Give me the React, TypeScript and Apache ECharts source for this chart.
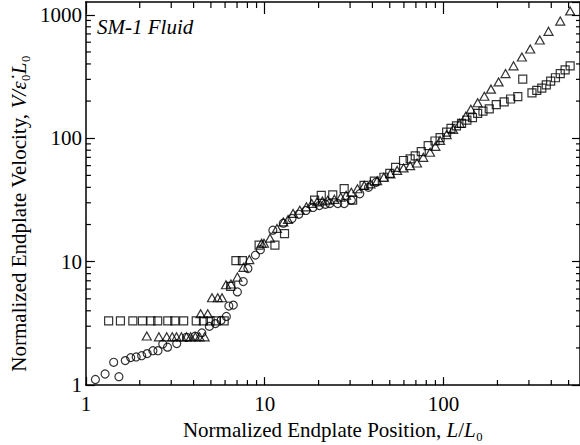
import React, { useEffect, useRef } from 'react';
import * as echarts from 'echarts';

const X_MIN = 1;
const X_MAX = 579;
const Y_MIN = 1;
const Y_MAX = 1270;

const xMinorTicks = [2, 3, 4, 5, 6, 7, 8, 9, 20, 30, 40, 50, 60, 70, 80, 90, 200, 300, 400, 500];
const yMinorTicks = [2, 3, 4, 5, 6, 7, 8, 9, 20, 30, 40, 50, 60, 70, 80, 90, 200, 300, 400, 500, 600, 700, 800, 900];

const circles: [number, number][] = [
  [1.13, 1.11], [1.28, 1.23], [1.43, 1.53], [1.53, 1.17], [1.66, 1.58], [1.78, 1.67], [1.91, 1.69],
  [2.05, 1.73], [2.2, 1.8], [2.37, 1.9], [2.53, 1.9], [2.69, 2.15], [2.86, 2.03], [3.22, 2.17],
  [3.65, 2.44], [4.08, 2.49], [4.45, 2.65], [4.9, 2.99], [5.3, 3.15], [5.7, 3.35], [6.1, 3.6],
  [6.3, 4.37], [6.67, 4.45], [7.03, 5.69], [7.58, 6.9], [8.05, 8.8], [8.87, 11.3], [9.46, 12.5],
  [11.1, 18.0], [12.7, 20.5], [14.2, 22.4], [15.5, 24.2], [17, 26], [18.6, 27.5], [20.2, 28.5],
  [21.8, 29.2], [23.1, 29.6], [25.6, 29.6], [27.8, 29.6], [30.5, 31.5], [34, 35.5], [38, 40], [42, 44],
];

const squares: [number, number][] = [
  [1.34, 3.31], [1.56, 3.31], [1.83, 3.31], [2.07, 3.31], [2.31, 3.31], [2.52, 3.31], [2.87, 3.31],
  [3.14, 3.31], [3.52, 3.31], [4.14, 3.31], [4.54, 3.31], [4.95, 3.31], [5.36, 3.31], [5.93, 3.31],
  [6.45, 6.3], [6.9, 10.2], [7.5, 10.2], [9.3, 13.6], [11.4, 13.6], [12.9, 16.9], [19, 31.5],
  [20.7, 34.5], [24, 34.8], [27.8, 39], [31, 31.5], [35.9, 41.5], [41, 45], [46.4, 48.3], [50, 52],
  [53.9, 58], [59.7, 66], [65, 68], [69.4, 72], [75, 78], [82, 87], [89.5, 95], [95.6, 101],
  [104, 112], [110, 120], [118, 126], [126, 132], [135, 140], [145, 147], [155, 159], [166, 166],
  [180, 173], [197, 187], [218, 197], [237, 208], [260, 217], [277, 301], [312, 233], [332, 244],
  [354, 255], [375, 271], [397, 290], [422, 309], [449, 334], [478, 358], [510, 386],
];

const triangles: [number, number][] = [
  [2.19, 2.5], [2.56, 2.46], [2.83, 2.46], [3.04, 2.46], [3.21, 2.46], [3.42, 2.46], [3.65, 2.46],
  [3.85, 2.46], [4.09, 2.46], [4.32, 2.46], [4.61, 2.46], [4.38, 3.79], [4.8, 3.79], [5.07, 5.1],
  [5.46, 5.1], [5.77, 5.1], [6.07, 6.5], [6.47, 6.6], [7.03, 7.5], [7.6, 9.0], [8.2, 10.4],
  [9.6, 14.1], [9.9, 14.1], [10.7, 15.5], [11.7, 18.6], [12.7, 21], [13.5, 22], [14.4, 24.6],
  [15.7, 26.1], [17.1, 27.8], [18.3, 29.6], [19.6, 30.5], [21, 31], [22.5, 31.5], [24.5, 32],
  [26.6, 33.3], [28.5, 34.5], [30.5, 36.5], [33, 39], [36, 41.5], [39, 42.7], [42.5, 45.3],
  [46.3, 48.3], [50.4, 51.5], [55, 54.9], [59.7, 57.5], [65, 60], [71, 63], [77, 70], [84, 77],
  [90, 86], [95.6, 96], [104, 107], [113, 118], [123, 132], [133, 151], [142, 172], [155, 194],
  [169, 219], [184, 250], [203, 286], [222, 334], [246, 386], [274, 455], [305, 529], [345, 625],
  [386, 735], [449, 889], [510, 1075],
];

const FONT = '"Liberation Serif", "Times New Roman", serif';

export default function App() {
  const ref = useRef<HTMLDivElement>(null);

  useEffect(() => {
    const chart = echarts.init(ref.current as HTMLDivElement, null, { renderer: 'svg' });
    const axisLine = { onZero: false, lineStyle: { color: '#000', width: 1.5 } };
    const tickLine = { color: '#000', width: 1.2 };
    const markerStyle = { color: 'rgba(0,0,0,0)', borderColor: '#000', borderWidth: 1.2 };
    const labelStyle = {
      color: '#000',
      fontFamily: FONT,
      fontSize: 21,
      showMaxLabel: false,
      formatter: (v: number) => String(Math.round(v)),
    };
    const nameStyle = {
      color: '#000',
      fontFamily: FONT,
      fontSize: 21,
      rich: {
        i: { fontStyle: 'italic', fontFamily: FONT, fontSize: 21, color: '#000' },
      },
    };

    chart.setOption({
      animation: false,
      backgroundColor: '#fff',
      grid: { left: 80, top: 2, width: 500, height: 386 },
      graphic: [
        {
          type: 'text',
          left: 97,
          top: 16,
          style: { text: 'SM-1 Fluid', font: 'italic 21px "Liberation Serif", serif', fill: '#000' },
        },
      ],
      xAxis: [
        {
          type: 'log',
          logBase: 10,
          min: X_MIN,
          max: X_MAX,
          position: 'bottom',
          axisLine,
          axisTick: { inside: true, length: 8, lineStyle: tickLine },
          axisLabel: { ...labelStyle, margin: 8 },
          splitLine: { show: false },
          name: 'Normalized Endplate Position, {i|L}/{i|L}₀',
          nameLocation: 'middle',
          nameGap: 26,
          nameTextStyle: nameStyle,
        },
        {
          type: 'log',
          logBase: 10,
          min: X_MIN,
          max: X_MAX,
          position: 'top',
          axisLine,
          axisTick: { inside: true, length: 12, lineStyle: tickLine },
          axisLabel: { show: false },
          splitLine: { show: false },
        },
      ],
      yAxis: [
        {
          type: 'log',
          logBase: 10,
          min: Y_MIN,
          max: Y_MAX,
          position: 'left',
          axisLine,
          axisTick: { inside: true, length: 9, lineStyle: tickLine },
          axisLabel: { ...labelStyle, margin: 4 },
          splitLine: { show: false },
          name: 'Normalized Endplate Velocity, {i|V/ε\u0307}₀{i|L}₀',
          nameLocation: 'middle',
          nameGap: 46,
          nameRotate: 90,
          nameTextStyle: { ...nameStyle, padding: [0, 40, 0, 0] },
        },
        {
          type: 'log',
          logBase: 10,
          min: Y_MIN,
          max: Y_MAX,
          position: 'right',
          axisLine,
          axisTick: { inside: true, length: 8, lineStyle: tickLine },
          axisLabel: { show: false },
          splitLine: { show: false },
        },
      ],
      series: [
        {
          type: 'custom',
          clip: false,
          silent: true,
          data: xMinorTicks.map((v) => [v, Y_MIN]),
          renderItem: (_p: any, api: any) => {
            const v = api.value(0);
            const b = api.coord([v, Y_MIN]);
            const t = api.coord([v, Y_MAX]);
            return {
              type: 'group',
              children: [
                { type: 'line', shape: { x1: b[0], y1: b[1], x2: b[0], y2: b[1] - 5 }, style: { stroke: '#000', lineWidth: 1.2 } },
                { type: 'line', shape: { x1: t[0], y1: t[1], x2: t[0], y2: t[1] + 6 }, style: { stroke: '#000', lineWidth: 1.2 } },
              ],
            };
          },
        },
        {
          type: 'custom',
          clip: false,
          silent: true,
          data: yMinorTicks.map((v) => [X_MIN, v]),
          renderItem: (_p: any, api: any) => {
            const v = api.value(1);
            const l = api.coord([X_MIN, v]);
            const r = api.coord([X_MAX, v]);
            return {
              type: 'group',
              children: [
                { type: 'line', shape: { x1: l[0], y1: l[1], x2: l[0] + 5, y2: l[1] }, style: { stroke: '#000', lineWidth: 1.2 } },
                { type: 'line', shape: { x1: r[0], y1: r[1], x2: r[0] - 4, y2: r[1] }, style: { stroke: '#000', lineWidth: 1.2 } },
              ],
            };
          },
        },
        { type: 'scatter', symbol: 'circle', symbolSize: 8, itemStyle: markerStyle, data: circles },
        { type: 'scatter', symbol: 'rect', symbolSize: 8, itemStyle: markerStyle, data: squares },
        { type: 'scatter', symbol: 'triangle', symbolSize: [9, 8], itemStyle: markerStyle, data: triangles },
      ],
    });

    return () => chart.dispose();
  }, []);

  return (
    <div
      ref={ref}
      style={{ position: 'fixed', left: 0, top: 0, width: 580, height: 445, background: '#fff' }}
    />
  );
}
